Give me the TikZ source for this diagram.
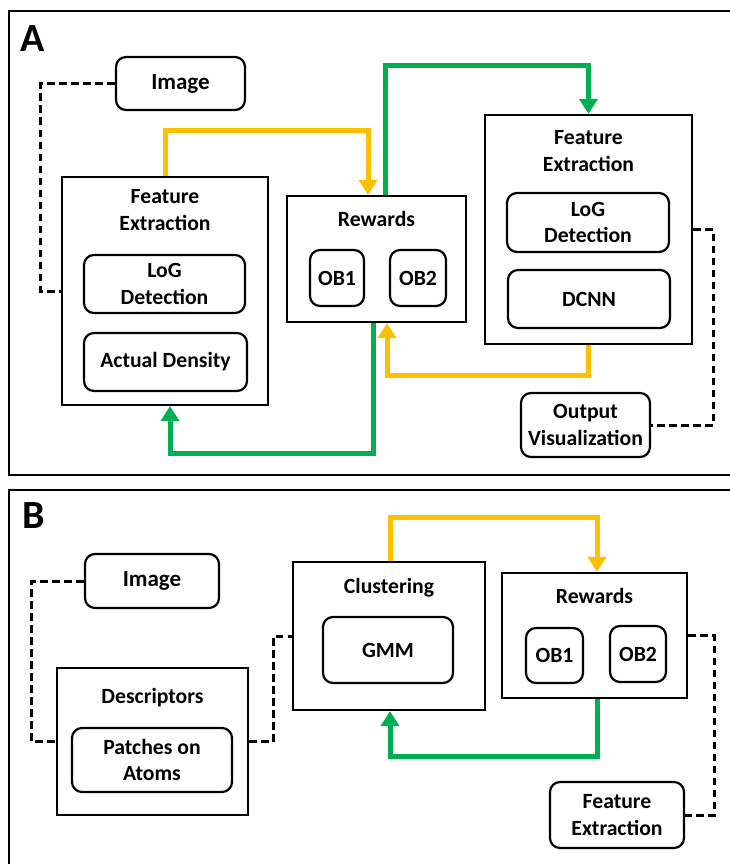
\documentclass[tikz,border=0pt]{standalone}
\usepackage{fontspec}
\setmainfont{Carlito}
\usetikzlibrary{arrows.meta}
\definecolor{yel}{HTML}{FFC000}
\definecolor{grn}{HTML}{00B050}
\begin{document}
\begin{tikzpicture}[x=1pt,y=-1pt,
  txt/.style={font=\fontsize{21.7}{26.5}\selectfont\bfseries, align=center, inner sep=0pt},
  outer/.style={draw, line width=2.2pt, rectangle, inner sep=0pt},
  inner/.style={draw, line width=2.2pt, rounded corners=10pt, inner sep=0pt, font=\fontsize{21.7}{26.5}\selectfont\bfseries, align=center},
  bigtext/.style={font=\fontsize{23}{27}\selectfont\bfseries},
  arr/.style={line width=5pt, -{Triangle[width=18pt,length=15pt]}},
  yarr/.style={arr, draw=yel, color=yel},
  garr/.style={arr, draw=grn, color=grn},
  dsh/.style={line width=3pt, dash pattern=on 7.5pt off 4.5pt},
  panel/.style={draw, line width=2.2pt},
  lbl/.style={font=\fontsize{40}{40}\selectfont\bfseries, inner sep=0pt}
]
\useasboundingbox (0,0) rectangle (730,864);
\clip (0,0) rectangle (730,864);
\fill[white] (0,0) rectangle (730,864);
% panels
\draw[panel] (9,11) rectangle (745,475);
\draw[panel] (9,490) rectangle (745,885);
\node[lbl] (labA) at (33,39) {A};
\node[lbl] (labB) at (34,516) {B};

% ---------- Panel A ----------
\node[inner, bigtext, minimum width=129pt, minimum height=53pt] (imgA) at (180.5,83.5) {Image};
\node[outer, minimum width=206pt, minimum height=228pt] (feL) at (165,291) {};
\node[txt] (feLt) at (165,210) {Feature\\Extraction};
\node[inner, minimum width=161pt, minimum height=58pt] (logL) at (164.5,284) {LoG\\Detection};
\node[inner, minimum width=163pt, minimum height=58pt] (actL) at (165.5,362) {Actual Density};

\node[outer, minimum width=179pt, minimum height=126pt] (rewA) at (376.5,259) {};
\node[txt] (rewAt) at (376.5,219) {Rewards};
\node[inner, minimum width=54pt, minimum height=56pt] (ob1A) at (337,278) {OB1};
\node[inner, minimum width=56pt, minimum height=56pt] (ob2A) at (418,278) {OB2};

\node[outer, minimum width=207pt, minimum height=229pt] (feR) at (588.5,229.5) {};
\node[txt] (feRt) at (588.5,151) {Feature\\Extraction};
\node[inner, minimum width=162pt, minimum height=59pt] (logR) at (588,222.5) {LoG\\Detection};
\node[inner, minimum width=162pt, minimum height=58pt] (dcnn) at (589,299) {DCNN};

\node[inner, minimum width=129pt, minimum height=64pt] (outV) at (585.5,425) {Output\\Visualization};

\draw[dsh] (imgA.west) -- ++(-74,0) |- (feL.west);
\draw[yarr] (feL.north) -- ++(0,-45) -| ([xshift=-8.5pt]rewA.north);
\draw[garr] ([xshift=8.5pt]rewA.north) -- ++(0,-129) -| (feR.north);
\draw[yarr] (feR.south) -- ++(0,30) -| ([xshift=10.5pt]rewA.south);
\draw[garr] ([xshift=-3.5pt]rewA.south) -- ++(0,130) -| ([xshift=5pt]feL.south);
\draw[dsh] (feR.east) -- ++(20,0) |- (outV.east);

% ---------- Panel B ----------
\node[inner, bigtext, minimum width=134pt, minimum height=54pt] (imgB) at (152,581) {Image};
\node[outer, minimum width=191pt, minimum height=147pt] (desc) at (152.5,741.5) {};
\node[txt] (desct) at (152.5,698) {Descriptors};
\node[inner, minimum width=160pt, minimum height=64pt] (patch) at (152,760) {Patches on\\Atoms};

\node[outer, minimum width=192pt, minimum height=148pt] (clus) at (389,636) {};
\node[txt] (clust) at (389,588) {Clustering};
\node[inner, minimum width=130pt, minimum height=66pt] (gmm) at (388,650) {GMM};

\node[outer, minimum width=185pt, minimum height=125pt] (rewB) at (594.5,635.5) {};
\node[txt] (rewBt) at (594.5,596) {Rewards};
\node[inner, minimum width=57pt, minimum height=55pt] (ob1B) at (554.5,655.5) {OB1};
\node[inner, minimum width=56pt, minimum height=56pt] (ob2B) at (638,654) {OB2};

\node[inner, minimum width=134pt, minimum height=66pt] (feB) at (617,815) {Feature\\Extraction};

\draw[dsh] (imgB.west) -- ++(-52,0) |- (desc.west);
\draw[dsh] (desc.east) -- ++(24,0) |- (clus.west);
\draw[yarr] ([xshift=1pt]clus.north) -- ++(0,-43) -| ([xshift=2.5pt]rewB.north);
\draw[garr] ([xshift=2.5pt]rewB.south) -- ++(0,57) -| ([xshift=1pt]clus.south);
\draw[dsh] (rewB.east) -- ++(26,0) |- (feB.east);
\end{tikzpicture}
\end{document}
